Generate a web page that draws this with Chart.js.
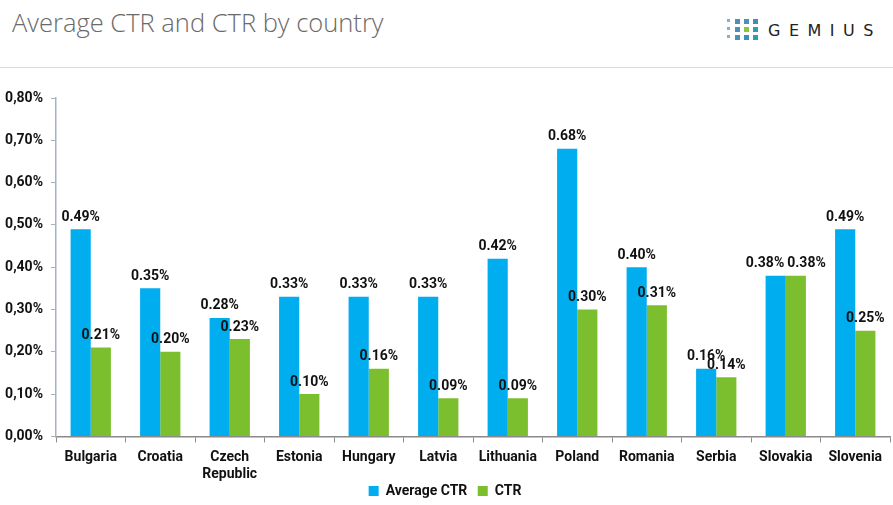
<!DOCTYPE html>
<html>
<head>
<meta charset="utf-8">
<script src="https://cdn.jsdelivr.net/npm/chart.js@4"></script>
<style>
  body { margin: 0; background: #fff; width: 893px; height: 505px; overflow: hidden; position: relative; }
  #title { position: absolute; left: 12px; top: 5px; font-family: "Open Sans"; font-weight: 300; font-size: 25.5px; color: #6a6a6a; }
  #rule { position: absolute; left: 0; top: 67px; width: 893px; height: 1px; background: #d9d9d9; }
  #logo { position: absolute; left: 726px; top: 19px; }
  .dot { position: absolute; width: 5px; height: 5px; }
  #logoText { position: absolute; left: 768px; top: 21px; font-family: "DejaVu Sans"; font-size: 16px; letter-spacing: 8.5px; color: #222; }
  #wrap { position: absolute; left: 0; top: 70px; width: 893px; height: 444px; }
</style>
</head>
<body>
<div id="title">Average CTR and CTR by country</div>
<div id="logo"></div>
<div id="logoText">GEMIUS</div>
<div id="rule"></div>
<div id="wrap"><canvas id="chart"></canvas></div>
<script>
// dados
const countries = ["Bulgaria", "Croatia", ["Czech", "Republic"], "Estonia", "Hungary", "Latvia",
  "Lithuania", "Poland", "Romania", "Serbia", "Slovakia", "Slovenia"];
const averageCtr = [0.49, 0.35, 0.28, 0.33, 0.33, 0.33, 0.42, 0.68, 0.40, 0.16, 0.38, 0.49];
const ctr = [0.21, 0.20, 0.23, 0.10, 0.16, 0.09, 0.09, 0.30, 0.31, 0.14, 0.38, 0.25];
const yTicks = [0, 0.1, 0.2, 0.3, 0.4, 0.5, 0.6, 0.7, 0.8];

// logo
const logo = document.getElementById("logo");
const dotColors = [
  ["#7fb3c9", "#4a90b8", "#4a90b8", "#3c8fb5"],
  ["#7fb3c9", "#4a90b8", "#8cc63f", "#2fa0a8"],
  ["#7fb3c9", "#4a90b8", "#3c8fb5", "#2fa0a8"],
];
dotColors.forEach((row, r) => {
  row.forEach((c, i) => {
    const d = document.createElement("div");
    d.className = "dot";
    d.style.left = (i * 9) + "px";
    d.style.top = (r * 8) + "px";
    d.style.background = c;
    if (i === 0) { d.style.width = "3px"; d.style.height = "3px"; d.style.left = "1px"; }
    logo.appendChild(d);
  });
});

const labelFont = { family: "Roboto", size: 14, weight: "bold", lineHeight: 1.2 };

// rótulos de dados
const valueLabels = {
  id: "valueLabels",
  afterLayout(chart) {
    // subir a legenda para perto dos rótulos do eixo
    const lg = chart.legend;
    if (lg) {
      lg.top -= 6; lg.bottom -= 6;
      (lg.legendHitBoxes || []).forEach(h => { h.top -= 6; });
    }
  },
  afterDatasetsDraw(chart) {
    const ctx = chart.ctx;
    ctx.save();
    ctx.font = "bold 14px Roboto";
    ctx.fillStyle = "#111";
    ctx.textAlign = "center";
    ctx.textBaseline = "bottom";
    const metaA = chart.getDatasetMeta(0).data;
    const metaB = chart.getDatasetMeta(1).data;
    metaA.forEach((barA, j) => {
      const barB = metaB[j];
      const tA = averageCtr[j].toFixed(2) + "%";
      const tB = ctr[j].toFixed(2) + "%";
      let xA = barA.x, xB = barB.x;
      // afastar rótulos na mesma altura
      if (Math.abs(barA.y - barB.y) < 3) {
        const w = ctx.measureText(tA).width;
        const overlap = w + 3 - (xB - xA);
        if (overlap > 0) { xA -= overlap / 2; xB += overlap / 2; }
      }
      ctx.fillText(tA, xA, barA.y - 5);
      ctx.fillText(tB, xB, barB.y - 5);
    });
    ctx.restore();
  }
};

new Chart(document.getElementById("chart"), {
  type: "bar",
  data: {
    labels: countries,
    datasets: [
      { label: "Average CTR", data: averageCtr, backgroundColor: "#00adef", barPercentage: 1, categoryPercentage: 0.58 },
      { label: "CTR", data: ctr, backgroundColor: "#7cbf2e", barPercentage: 1, categoryPercentage: 0.58 },
    ]
  },
  options: {
    responsive: true,
    maintainAspectRatio: false,
    animation: false,
    layout: { padding: { top: 28, right: 3, left: 0, bottom: 0 } },
    plugins: {
      legend: {
        position: "bottom",
        labels: {
          font: labelFont, color: "#111", boxWidth: 10, boxHeight: 10, padding: 0,
          generateLabels(chart) {
            const items = Chart.defaults.plugins.legend.labels.generateLabels(chart);
            items.forEach((it, i) => { if (i < items.length - 1) it.text = it.text + "   "; });
            return items;
          }
        }
      },
      tooltip: { enabled: false }
    },
    scales: {
      x: {
        offset: true,
        grid: { display: true, drawOnChartArea: false, drawTicks: true, tickLength: 6, color: "#8a8a8a" },
        border: { color: "#8a8a8a", width: 1.5 },
        ticks: { font: labelFont, color: "#111", padding: 7, maxRotation: 0 }
      },
      y: {
        min: 0,
        max: 0.8,
        afterBuildTicks(scale) { scale.ticks = yTicks.map(v => ({ value: v })); },
        afterFit(scale) { scale.width = 56; },
        grid: { display: true, drawOnChartArea: false, drawTicks: true, tickLength: 5, color: "#a8b4bd" },
        border: { color: "#a8b4bd", width: 1.5 },
        ticks: {
          font: labelFont, color: "#111", padding: 8,
          callback: v => v.toFixed(2).replace(".", ",") + "%"
        }
      }
    }
  },
  plugins: [valueLabels]
});
</script>
</body>
</html>
